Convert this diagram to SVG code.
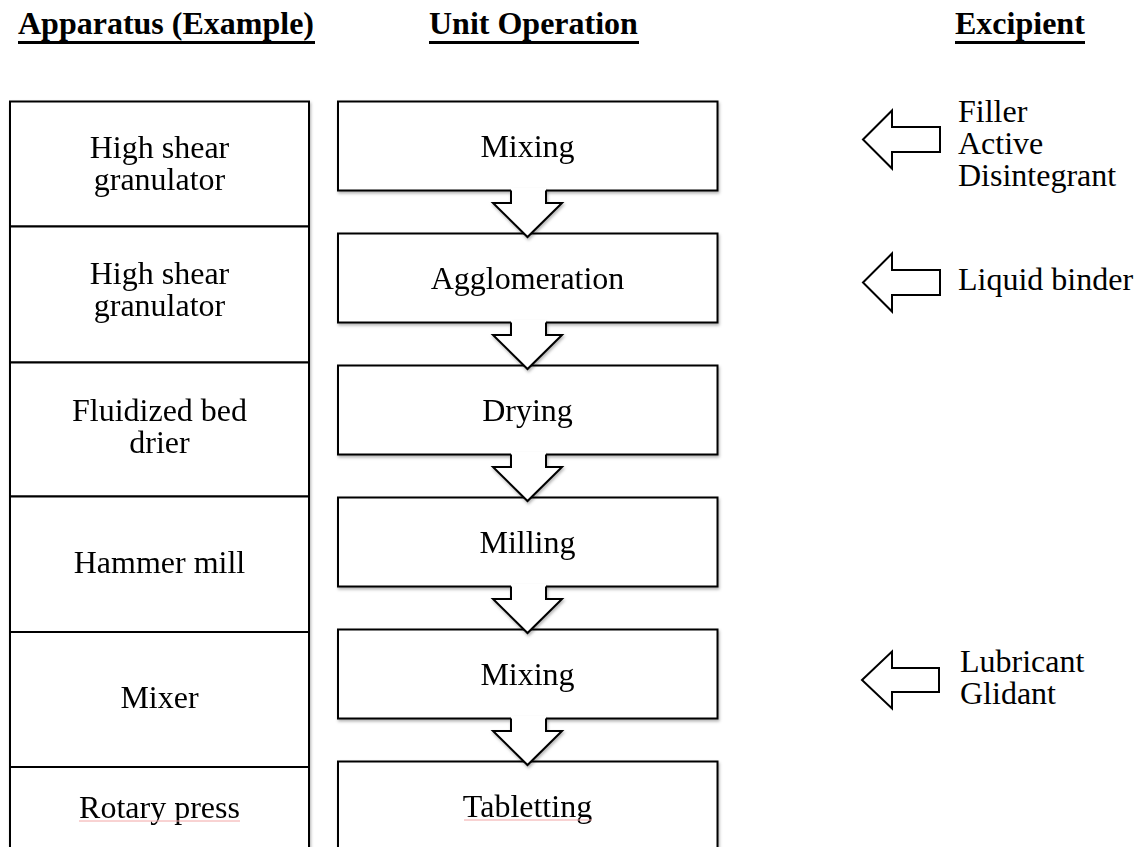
<svg xmlns="http://www.w3.org/2000/svg" width="1141" height="847" viewBox="0 0 1141 847">
<defs>
<style>
.box{fill:#fff;stroke:#000;stroke-width:2}
.t{font-family:"Liberation Serif","Times New Roman",serif;font-size:32px;fill:#000}
.h{font-family:"Liberation Serif","Times New Roman",serif;font-size:32px;font-weight:bold;fill:#000}
.mid{text-anchor:middle}
.afill{fill:#fff;stroke:none}
.aline{fill:none;stroke:#000;stroke-width:2;stroke-linejoin:miter}
.ex{fill:#fff;stroke:#000;stroke-width:2;stroke-linejoin:miter}
.sq{stroke:#f2a6a6;stroke-width:1;fill:none}
</style>
<filter id="sh" x="-10%" y="-10%" width="120%" height="130%">
<feDropShadow dx="1" dy="2" stdDeviation="1.5" flood-color="#000" flood-opacity="0.3"/>
</filter>
</defs>
<rect width="1141" height="847" fill="#fff"/>

<g id="headers">
<text class="h" x="18" y="34">Apparatus (Example)</text>
<rect x="18" y="41" width="297" height="3" fill="#000"/>
<text class="h" x="429" y="34">Unit Operation</text>
<rect x="429" y="41" width="210" height="3" fill="#000"/>
<text class="h" x="955" y="34">Excipient</text>
<rect x="955" y="41" width="130" height="3" fill="#000"/>
</g>

<g id="apparatus" filter="url(#sh)">
<g id="app1"><rect class="box" x="10" y="101.5" width="299" height="125"/>
<text class="t mid" x="159.5" y="158">High shear<tspan x="159.5" dy="32">granulator</tspan></text></g>
<g id="app2"><rect class="box" x="10" y="226.5" width="299" height="136"/>
<text class="t mid" x="159.5" y="284">High shear<tspan x="159.5" dy="32">granulator</tspan></text></g>
<g id="app3"><rect class="box" x="10" y="362.5" width="299" height="134"/>
<text class="t mid" x="159.5" y="421">Fluidized bed<tspan x="159.5" dy="32">drier</tspan></text></g>
<g id="app4"><rect class="box" x="10" y="496.5" width="299" height="135.5"/>
<text class="t mid" x="159.5" y="573">Hammer mill</text></g>
<g id="app5"><rect class="box" x="10" y="632" width="299" height="135"/>
<text class="t mid" x="159.5" y="708">Mixer</text></g>
<g id="app6"><rect class="box" x="10" y="767" width="299" height="110"/>
<text class="t mid" x="159.5" y="818">Rotary press</text>
<line class="sq" x1="79" y1="821" x2="240" y2="821"/></g>
</g>

<g id="operations" filter="url(#sh)">
<g id="op1"><rect class="box" x="338" y="101.5" width="379.5" height="89"/>
<text class="t mid" x="527.5" y="157">Mixing</text></g>
<g id="op2"><rect class="box" x="338" y="233.5" width="379.5" height="89"/>
<text class="t mid" x="527.5" y="289">Agglomeration</text></g>
<g id="op3"><rect class="box" x="338" y="365.5" width="379.5" height="89"/>
<text class="t mid" x="527.5" y="421">Drying</text></g>
<g id="op4"><rect class="box" x="338" y="497.5" width="379.5" height="89"/>
<text class="t mid" x="527.5" y="553">Milling</text></g>
<g id="op5"><rect class="box" x="338" y="629.5" width="379.5" height="89"/>
<text class="t mid" x="527.5" y="685">Mixing</text></g>
<g id="op6"><rect class="box" x="338" y="761.5" width="379.5" height="110"/>
<text class="t mid" x="527.5" y="817">Tabletting</text>
<line class="sq" x1="464" y1="820" x2="592" y2="820"/></g>
</g>

<g id="connectors">
<g filter="url(#sh)">
<path class="afill" d="M511,188 L511,203 L493,203 L527.5,237 L562,203 L546,203 L546,188 Z"/>
<path class="aline" d="M511,190.5 L511,203 L493,203 L527.5,237 L562,203 L546,203 L546,190.5"/>
</g>
<g filter="url(#sh)">
<path class="afill" d="M511,320 L511,335 L493,335 L527.5,369 L562,335 L546,335 L546,320 Z"/>
<path class="aline" d="M511,322.5 L511,335 L493,335 L527.5,369 L562,335 L546,335 L546,322.5"/>
</g>
<g filter="url(#sh)">
<path class="afill" d="M511,452 L511,467 L493,467 L527.5,501 L562,467 L546,467 L546,452 Z"/>
<path class="aline" d="M511,454.5 L511,467 L493,467 L527.5,501 L562,467 L546,467 L546,454.5"/>
</g>
<g filter="url(#sh)">
<path class="afill" d="M511,584 L511,599 L493,599 L527.5,633 L562,599 L546,599 L546,584 Z"/>
<path class="aline" d="M511,586.5 L511,599 L493,599 L527.5,633 L562,599 L546,599 L546,586.5"/>
</g>
<g filter="url(#sh)">
<path class="afill" d="M511,716 L511,731 L493,731 L527.5,765 L562,731 L546,731 L546,716 Z"/>
<path class="aline" d="M511,718.5 L511,731 L493,731 L527.5,765 L562,731 L546,731 L546,718.5"/>
</g>
</g>

<g id="excipients">
<g id="ex1">
<path class="ex" d="M863,139.5 L892,110.5 L892,127 L940,127 L940,152 L892,152 L892,168.5 Z"/>
<text class="t" x="958" y="122">Filler<tspan x="958" dy="32">Active</tspan><tspan x="958" dy="32">Disintegrant</tspan></text>
</g>
<g id="ex2">
<path class="ex" d="M863,282.5 L892,253.5 L892,270 L940,270 L940,295 L892,295 L892,311.5 Z"/>
<text class="t" x="958" y="290">Liquid binder</text>
</g>
<g id="ex3">
<path class="ex" d="M862,680 L892,651.5 L892,668 L939,668 L939,692 L892,692 L892,708.5 Z"/>
<text class="t" x="960" y="672">Lubricant<tspan x="960" dy="32">Glidant</tspan></text>
</g>
</g>
</svg>
